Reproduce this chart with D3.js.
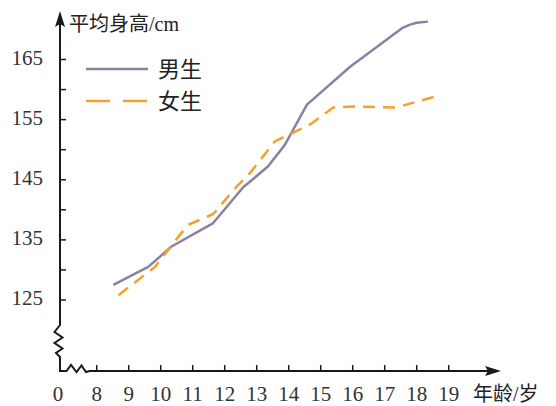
<!DOCTYPE html>
<html><head><meta charset="utf-8">
<script src="https://cdn.jsdelivr.net/npm/d3@7"></script>
<style>body{margin:0;background:#fff}svg{display:block}</style>
</head><body>
<script>
// ---- data ----
const xTicks = [8,9,10,11,12,13,14,15,16,17,18,19];
const yTicks = [125,130,135,140,145,150,155,160,165];
const yTickLabels = [125,135,145,155,165];
const yTitle = "平均身高/cm";
const xTitle = "年龄/岁";
const seriesNames = ["男生","女生"];
const boyAge    = [8.52,9.61,10.34,11.64,12.57,13.35,13.88,14.57,15.92,17.54,17.79,18.0,18.35];
const boyHeight = [127.5,130.5,133.9,137.8,143.7,147.2,150.8,157.5,163.8,170.2,170.8,171.1,171.3];
const girlAge    = [8.68,9.82,10.55,10.86,11.64,12.38,12.79,13.57,14.09,14.67,15.39,16.02,17.27,17.48,18.68];
const girlHeight = [125.8,130.5,135.5,137.5,139.3,143.9,146.1,151.4,152.7,154.2,157.0,157.2,157.0,157.2,159.0];

const W=556,H=406;
const ox=60, oy=371; // axis origin
const x=d3.scaleLinear().domain([8,19]).range([96.7,448.7]);
const y=d3.scaleLinear().domain([125,165]).range([300,59.5]);
const axisColor="#1a1a1a";
const boyColor="#8a80a6", girlColor="#f5a02c";
const numFont="'Liberation Serif','DejaVu Serif',serif";
const cjkFont="'Liberation Serif','Noto Sans CJK SC',serif";

const svg=d3.select("body").append("svg").attr("width",W).attr("height",H);

// y axis: line, zigzag, arrow
const yAxisPath=d3.path();
yAxisPath.moveTo(ox,24);
yAxisPath.lineTo(ox,325);
const zz=[[54.5,332],[62.5,337.5],[54.5,343],[62.5,348.5],[56,353],[ox,357]];
zz.forEach(p=>yAxisPath.lineTo(p[0],p[1]));
yAxisPath.lineTo(ox,oy);
// x axis zigzag
const xz=[[66.5,oy],[71,365],[76.5,372],[81.5,365.5],[86,372],[89.5,oy]];
xz.forEach(p=>yAxisPath.lineTo(p[0],p[1]));
yAxisPath.lineTo(490,oy);
svg.append("path").attr("d",yAxisPath.toString()).attr("fill","none")
  .attr("stroke",axisColor).attr("stroke-width",2).attr("stroke-linejoin","miter");
// arrows
svg.append("path").attr("d",`M${ox},11 L${ox-5},27 L${ox},24 L${ox+5},27 Z`).attr("fill",axisColor);
svg.append("path").attr("d",`M501,${oy} L485,${oy-5} L488,${oy} L485,${oy+5} Z`).attr("fill",axisColor);

// y ticks
svg.selectAll(".yt").data(yTicks).enter().append("line")
  .attr("x1",ox).attr("x2",ox+6).attr("y1",d=>y(d)).attr("y2",d=>y(d))
  .attr("stroke",axisColor).attr("stroke-width",1.5);
svg.selectAll(".yl").data(yTickLabels).enter().append("text")
  .attr("x",43).attr("y",d=>y(d)+5).attr("text-anchor","end")
  .attr("font-family",numFont).attr("font-size",21).attr("fill","#333").text(d=>d);

// x ticks
svg.selectAll(".xt").data(xTicks).enter().append("line")
  .attr("x1",d=>x(d)).attr("x2",d=>x(d)).attr("y1",oy).attr("y2",oy-6)
  .attr("stroke",axisColor).attr("stroke-width",1.5);
svg.selectAll(".xl").data(xTicks).enter().append("text")
  .attr("x",d=>x(d)).attr("y",401).attr("text-anchor","middle")
  .attr("font-family",numFont).attr("font-size",21).attr("fill","#333").text(d=>d);
svg.append("text").attr("x",ox-2).attr("y",401).attr("text-anchor","middle")
  .attr("font-family",numFont).attr("font-size",21).attr("fill","#333").text("0");

// titles
svg.append("text").attr("x",69).attr("y",31).attr("font-family",cjkFont)
  .attr("font-size",20).attr("fill","#222").text(yTitle);
svg.append("text").attr("x",473).attr("y",401).attr("font-family",cjkFont)
  .attr("font-size",20).attr("fill","#222").text(xTitle);

// lines
const line=d3.line().x(d=>x(d[0])).y(d=>y(d[1]));
svg.append("path").datum(boyAge.map((a,i)=>[a,boyHeight[i]]))
  .attr("d",line).attr("fill","none").attr("stroke",boyColor).attr("stroke-width",2.5)
  .attr("stroke-linejoin","round");
svg.append("path").datum(girlAge.map((a,i)=>[a,girlHeight[i]]))
  .attr("d",line).attr("fill","none").attr("stroke",girlColor).attr("stroke-width",2.5)
  .attr("stroke-dasharray","12,8").attr("stroke-linejoin","round");

// legend
svg.append("line").attr("x1",86).attr("x2",148).attr("y1",69).attr("y2",69)
  .attr("stroke",boyColor).attr("stroke-width",2.5);
svg.append("line").attr("x1",86).attr("x2",148).attr("y1",101).attr("y2",101)
  .attr("stroke",girlColor).attr("stroke-width",2.5).attr("stroke-dasharray","24,13");
svg.append("text").attr("x",158).attr("y",77).attr("font-family",cjkFont)
  .attr("font-size",22).attr("fill","#222").text(seriesNames[0]);
svg.append("text").attr("x",158).attr("y",109).attr("font-family",cjkFont)
  .attr("font-size",22).attr("fill","#222").text(seriesNames[1]);
</script>
</body></html>
